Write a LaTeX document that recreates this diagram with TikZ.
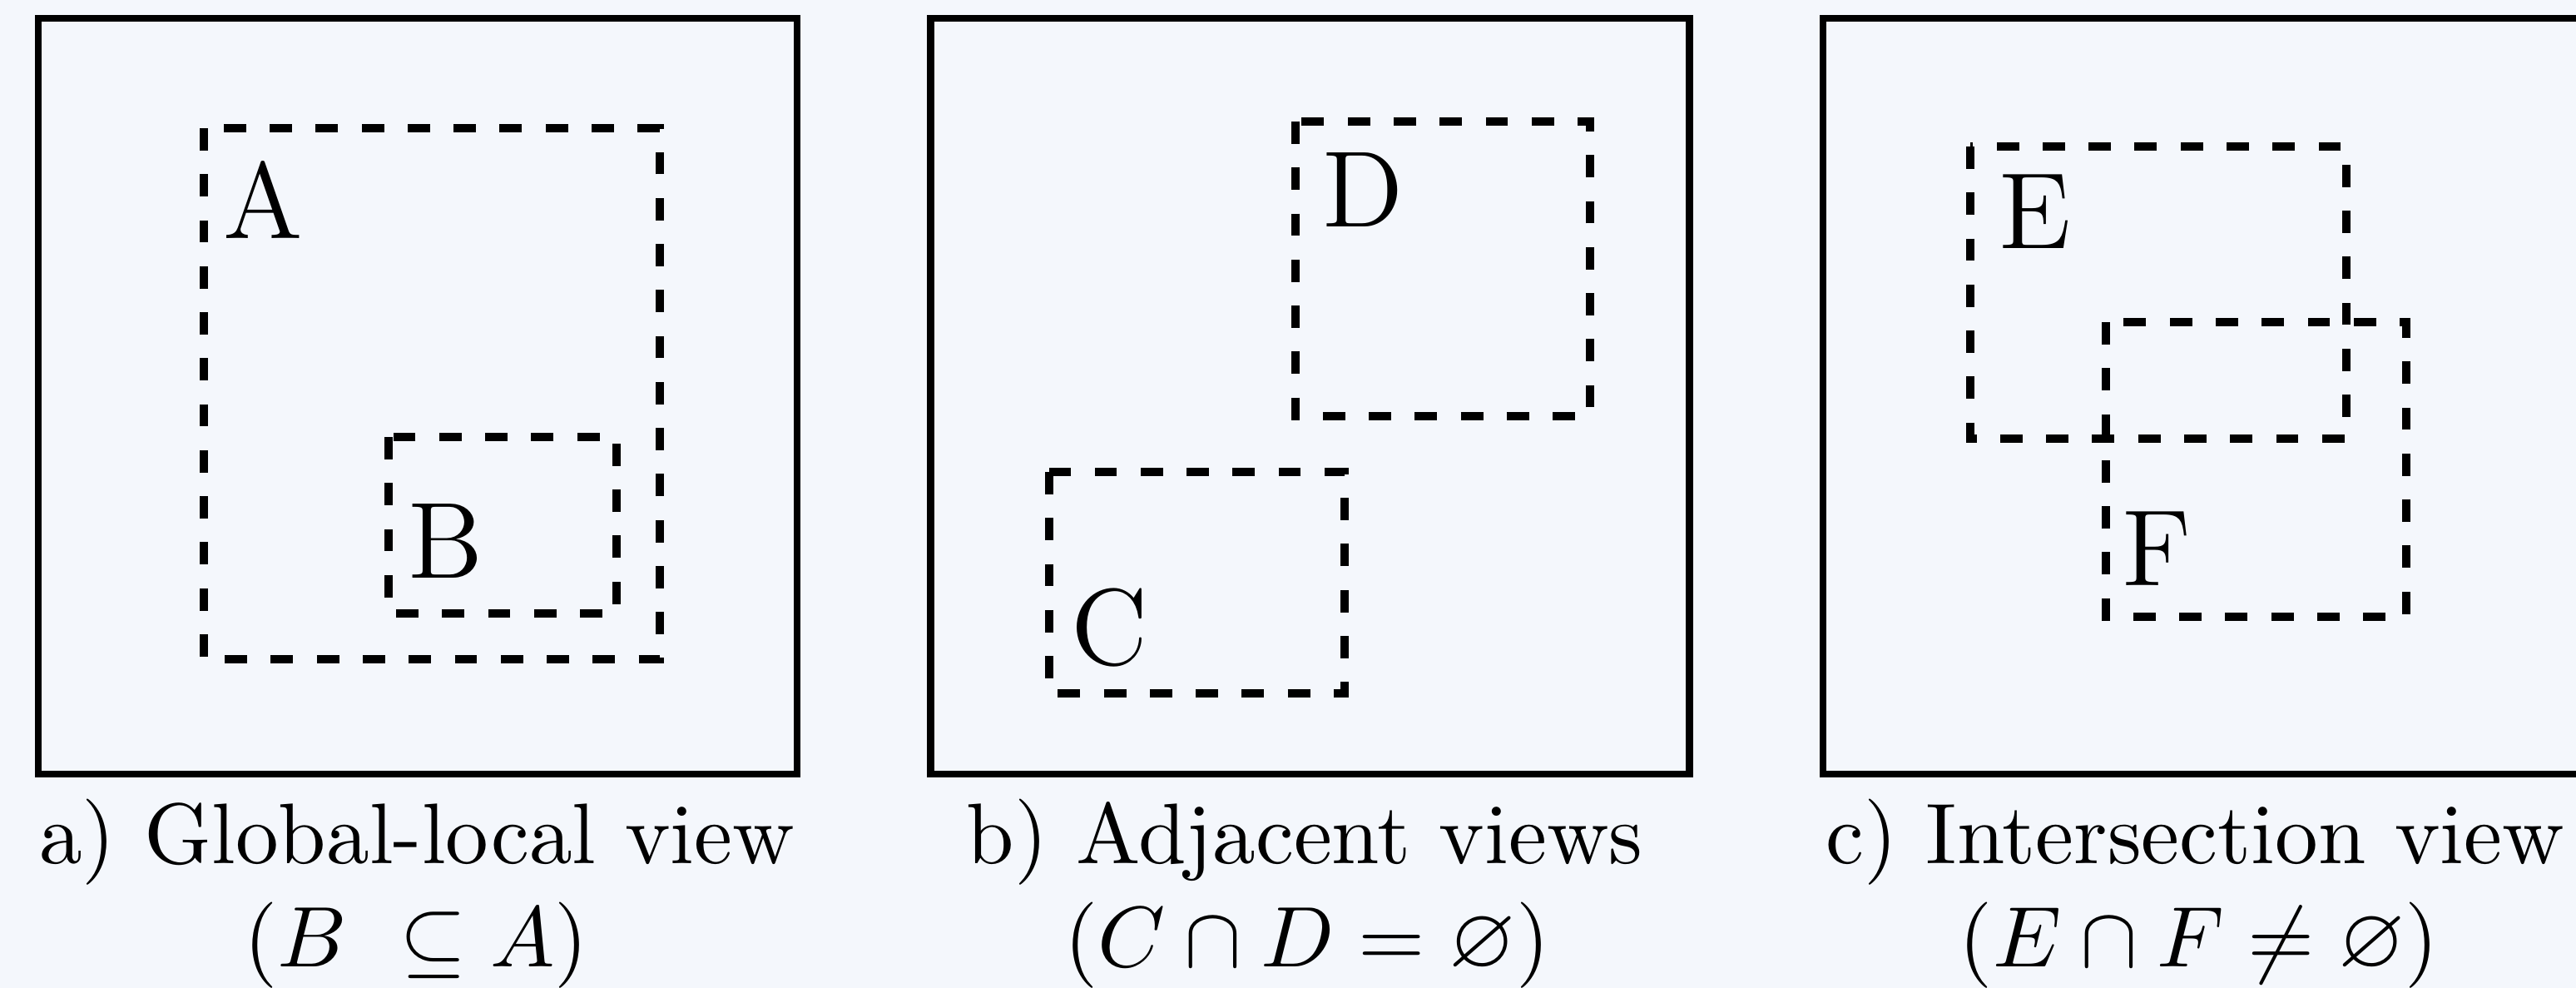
\documentclass[tikz,border=0pt]{standalone}
\usepackage{amsmath,amssymb}
\definecolor{paper}{RGB}{244,247,252}
\usetikzlibrary{positioning}
\tikzset{
  frame/.style={draw=black, line width=0.85pt},
  region/.style={draw=black, line width=0.95pt, dash pattern=on 2.6pt off 2.75pt},
  tag/.style={anchor=base west, inner sep=0pt, font=\fontsize{12.6}{15}\selectfont},
  caption/.style={anchor=base, inner sep=0pt, font=\normalsize},
}

\begin{document}
\begin{tikzpicture}[x=9.68pt, y=-9.68pt]
    \fill[paper] (0,0) rectangle (30.96,11.87);
    \useasboundingbox (0,0) rectangle (30.96,11.87);
    % outer frames
    \foreach \fx in {0.46,11.185,21.91}
      \draw[frame] (\fx,0.22) rectangle ++(9.12,9.08);
    % a) global-local
    \draw[region] (2.45,1.54) rectangle (7.93,7.92);
    \draw[region] (4.67,5.25) rectangle (7.41,7.37);
    \node[tag] (tagA) at (2.66,2.87) {A};
    \node[tag] (tagB) at (4.88,6.95) {B};
    % b) adjacent
    \draw[region] (15.57,1.46) rectangle (19.11,5.00);
    \draw[region] (12.61,5.67) rectangle (16.16,8.33);
    \node[tag] (tagD) at (15.87,2.73) {D};
    \node[tag] (tagC) at (12.85,7.99) {C};
    % c) intersection
    \draw[region] (23.68,1.76) rectangle (28.20,5.27);
    \draw[region] (25.31,3.87) rectangle (28.92,7.41);
    \node[tag] (tagE) at (24.00,2.99) {E};
    \node[tag] (tagF) at (25.48,7.04) {F};
    % captions
    \node[caption] (titlea) at (5.01,10.37) {a) Global-local view};
    \node[caption] (rela)   at (5.00,11.61) {$(B\ \subseteq A)$};
    \node[caption] (titleb) at (15.68,10.37) {b) Adjacent views};
    \node[caption] (relb)   at (15.71,11.61) {$(C\cap D=\varnothing)$};
    \node[caption] (titlec) at (26.38,10.37) {c) Intersection view};
    \node[caption] (relc)   at (26.43,11.61) {$(E\cap F\neq\varnothing)$};
  \end{tikzpicture}
\end{document}
